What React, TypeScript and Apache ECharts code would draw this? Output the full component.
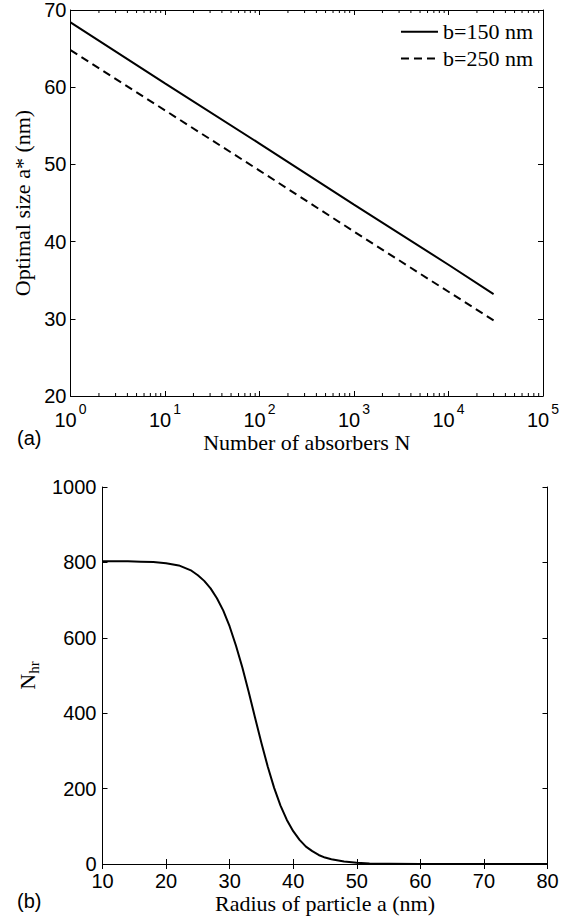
import React, { useEffect, useRef } from 'react';
import * as echarts from 'echarts';

// Panel (a): optimal size a* vs number of absorbers N (semi-log)
const absorbersN = [1, 10, 100, 1000, 10000, 30000];
const aStarB150 = [68.4, 60.5, 52.7, 44.8, 37.0, 33.2];
const aStarB250 = [64.8, 57.0, 49.2, 41.3, 33.5, 29.8];
const seriesNames = ['b=150 nm', 'b=250 nm'];
const logMinorTicks = [
  2, 3, 4, 5, 6, 7, 8, 9,
  20, 30, 40, 50, 60, 70, 80, 90,
  200, 300, 400, 500, 600, 700, 800, 900,
  2000, 3000, 4000, 5000, 6000, 7000, 8000, 9000,
  20000, 30000, 40000, 50000, 60000, 70000, 80000, 90000,
];

// Panel (b): N_hr vs radius of particle a
const radiusA = [10, 12, 14, 16, 18, 20, 22, 24, 25, 26, 27, 28, 29, 30, 31, 32, 33, 34, 35, 36, 37, 38, 39, 40, 41, 42, 43, 44, 45, 46, 48, 50, 52, 55, 60, 65, 70, 75, 80];
const nHr = [803, 803, 803, 802, 801, 798, 792, 778, 766, 751, 731, 705, 672, 630, 579, 521, 456, 388, 321, 258, 202, 155, 117, 87, 64, 46, 34, 24, 17, 12.5, 6.4, 3.2, 1.6, 0.6, 0.1, 0, 0, 0, 0];

const SANS = 'Liberation Sans, Arial, Helvetica, sans-serif';
const SERIF = 'Liberation Serif, Times New Roman, serif';
const INK = '#000';

export default function App() {
  const ref = useRef<HTMLDivElement>(null);

  useEffect(() => {
    if (!ref.current) return;
    const chart = echarts.init(ref.current, undefined, { renderer: 'svg' });

    const axisLine = { show: true, lineStyle: { color: INK, width: 1 } };
    const tick = { show: true, inside: true, length: 5, lineStyle: { color: INK, width: 1 } };
    const tickLabel = { color: INK, fontFamily: SANS, fontSize: 20, formatter: (v: number) => String(v) };

    const option: any = {
      animation: false,
      backgroundColor: '#fff',
      grid: [
        { left: 70.5, top: 9.5, width: 472.5, height: 386.5 },
        { left: 102.5, top: 487, width: 445, height: 377 },
      ],
      legend: {
        data: seriesNames,
        orient: 'vertical',
        right: 44,
        top: 20.7,
        padding: 0,
        itemWidth: 37,
        itemHeight: 14,
        itemGap: 4.7,
        itemTextGap: 2,
        align: 'left',
        itemStyle: { opacity: 0 },
        textStyle: { fontFamily: SERIF, fontSize: 22, color: INK, lineHeight: 22 },
      },
      xAxis: [
        {
          type: 'log',
          logBase: 10,
          gridIndex: 0,
          min: 1,
          max: 100000,
          position: 'bottom',
          axisLine,
          axisTick: tick,
          splitLine: { show: false },
          axisLabel: {
            margin: 6,
            formatter: (v: number) => `{b|10}{s|${Math.round(Math.log10(v))}}`,
            rich: {
              b: { fontFamily: SANS, fontSize: 20, color: INK, padding: [8, 0, 0, 0], verticalAlign: 'bottom' },
              s: { fontFamily: SANS, fontSize: 14, color: INK, padding: [0, 0, 0, 2], verticalAlign: 'top' },
            },
          },
          name: 'Number of absorbers N',
          nameLocation: 'middle',
          nameGap: 35,
          nameTextStyle: { fontFamily: SERIF, fontSize: 22, color: INK },
        },
        {
          type: 'log',
          logBase: 10,
          gridIndex: 0,
          min: 1,
          max: 100000,
          position: 'top',
          axisLine,
          axisTick: tick,
          axisLabel: { show: false },
          splitLine: { show: false },
        },
        {
          type: 'value',
          gridIndex: 1,
          min: 10,
          max: 80,
          interval: 10,
          position: 'bottom',
          axisLine,
          axisTick: tick,
          splitLine: { show: false },
          axisLabel: { ...tickLabel, margin: 7 },
          name: 'Radius of particle a (nm)',
          nameLocation: 'middle',
          nameGap: 28,
          nameTextStyle: { fontFamily: SERIF, fontSize: 22, color: INK },
        },
        {
          type: 'value',
          gridIndex: 1,
          min: 10,
          max: 80,
          interval: 10,
          position: 'top',
          axisLine,
          axisTick: tick,
          axisLabel: { show: false },
          splitLine: { show: false },
        },
      ],
      yAxis: [
        {
          type: 'value',
          gridIndex: 0,
          min: 20,
          max: 70,
          interval: 10,
          position: 'left',
          axisLine,
          axisTick: tick,
          splitLine: { show: false },
          axisLabel: { ...tickLabel, margin: 4 },
          name: 'Optimal size a* (nm)',
          nameLocation: 'middle',
          nameGap: 33,
          nameRotate: 90,
          nameTextStyle: { fontFamily: SERIF, fontSize: 22, color: INK },
        },
        {
          type: 'value',
          gridIndex: 0,
          min: 20,
          max: 70,
          interval: 10,
          position: 'right',
          axisLine,
          axisTick: tick,
          axisLabel: { show: false },
          splitLine: { show: false },
        },
        {
          type: 'value',
          gridIndex: 1,
          min: 0,
          max: 1000,
          interval: 200,
          position: 'left',
          axisLine,
          axisTick: tick,
          splitLine: { show: false },
          axisLabel: { ...tickLabel, margin: 6 },
          name: '{n|N}{s|hr}',
          nameLocation: 'middle',
          nameGap: 58,
          nameRotate: 90,
          nameTextStyle: {
            fontFamily: SERIF,
            fontSize: 22,
            color: INK,
            rich: {
              n: { fontFamily: SERIF, fontSize: 22, color: INK, verticalAlign: 'top' },
              s: { fontFamily: SERIF, fontSize: 15, color: INK, padding: [10, 0, 0, 0], verticalAlign: 'bottom' },
            },
          },
        },
        {
          type: 'value',
          gridIndex: 1,
          min: 0,
          max: 1000,
          interval: 200,
          position: 'right',
          axisLine,
          axisTick: tick,
          axisLabel: { show: false },
          splitLine: { show: false },
        },
      ],
      series: [
        {
          type: 'line',
          name: seriesNames[0],
          xAxisIndex: 0,
          yAxisIndex: 0,
          data: absorbersN.map((n, i) => [n, aStarB150[i]]),
          symbol: 'none',
          lineStyle: { color: INK, width: 2, type: 'solid' },
          itemStyle: { color: INK },
        },
        {
          type: 'line',
          name: seriesNames[1],
          xAxisIndex: 0,
          yAxisIndex: 0,
          data: absorbersN.map((n, i) => [n, aStarB250[i]]),
          symbol: 'none',
          lineStyle: { color: INK, width: 2, type: [8, 5] },
          itemStyle: { color: INK },
        },
        {
          type: 'custom',
          xAxisIndex: 0,
          yAxisIndex: 0,
          silent: true,
          clip: false,
          data: logMinorTicks.map((v) => [v, 20]),
          encode: { x: 0, y: 1 },
          renderItem: (_p: any, api: any) => {
            const x = api.value(0);
            const b = api.coord([x, 20]);
            const t = api.coord([x, 70]);
            const st = { stroke: INK, lineWidth: 1 };
            return {
              type: 'group',
              children: [
                { type: 'line', shape: { x1: b[0], y1: b[1], x2: b[0], y2: b[1] - 3 }, style: st },
                { type: 'line', shape: { x1: t[0], y1: t[1], x2: t[0], y2: t[1] + 3 }, style: st },
              ],
            };
          },
        },
        {
          type: 'line',
          xAxisIndex: 2,
          yAxisIndex: 2,
          data: radiusA.map((a, i) => [a, nHr[i]]),
          symbol: 'none',
          smooth: false,
          lineStyle: { color: INK, width: 2, join: 'round' },
          itemStyle: { color: INK },
        },
      ],
      graphic: [
        { type: 'text', left: 17, top: 428, style: { text: '(a)', fontFamily: SANS, fontSize: 20, fill: INK } },
        { type: 'text', left: 17, top: 891, style: { text: '(b)', fontFamily: SANS, fontSize: 20, fill: INK } },
      ],
    };

    chart.setOption(option);
    return () => chart.dispose();
  }, []);

  return (
    <div
      ref={ref}
      style={{ position: 'absolute', left: 0, top: 0, width: 577, height: 917, background: '#fff' }}
    />
  );
}
